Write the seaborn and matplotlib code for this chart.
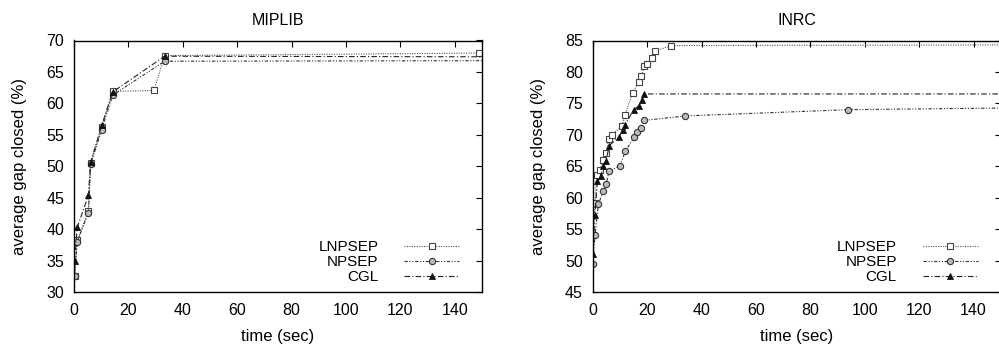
import matplotlib
matplotlib.use("Agg")
import matplotlib.pyplot as plt
import seaborn as sns
import pandas as pd

# ---------------- data ----------------
mip_lnpsep_t = [0.2, 1.2, 5.3, 6.1, 10.2, 14.2, 29.4, 33.3, 149]
mip_lnpsep_v = [32.5, 38.2, 42.9, 50.5, 56.3, 61.9, 62.05, 67.6, 68.0]
mip_npsep_t = [0.2, 1.2, 5.3, 6.1, 10.2, 14.2, 33.3, 160]
mip_npsep_v = [32.6, 38.0, 42.6, 50.3, 55.8, 61.3, 66.7, 66.8]
mip_cgl_t = [0.2, 1.2, 5.3, 6.1, 10.2, 14.2, 33.3, 160]
mip_cgl_v = [34.9, 40.3, 45.4, 50.6, 56.5, 61.8, 67.5, 67.4]

inrc_lnpsep_t = [0.1, 0.9, 1.5, 2.7, 3.9, 4.9, 5.9, 7.0, 10.8, 11.9, 14.7, 17.0,
                 17.9, 18.9, 19.9, 21.9, 23.0, 28.9, 160]
inrc_lnpsep_v = [54.1, 59.1, 63.6, 64.4, 66.0, 67.1, 69.3, 70.0, 71.4, 73.2, 76.7,
                 78.4, 79.3, 80.9, 81.2, 82.2, 83.3, 84.2, 84.3]
inrc_npsep_t = [0.0, 0.85, 2.1, 3.9, 4.9, 6.0, 10.1, 12.0, 15.2, 16.2, 17.9, 19.0,
                34.0, 94.0, 160]
inrc_npsep_v = [49.5, 54.1, 59.0, 61.0, 62.1, 64.2, 65.1, 67.4, 69.6, 70.4, 71.1,
                72.3, 73.0, 74.0, 74.3]
inrc_cgl_t = [0.0, 0.85, 1.7, 2.9, 3.9, 4.9, 6.1, 9.8, 11.0, 12.0, 15.0, 17.0,
              18.0, 19.0, 160]
inrc_cgl_v = [51.1, 57.3, 62.6, 63.4, 65.0, 65.9, 68.3, 69.7, 70.8, 71.6, 74.0,
              74.6, 75.5, 76.5, 76.5]

series_names = ["LNPSEP", "NPSEP", "CGL"]
panel_titles = ["MIPLIB", "INRC"]
x_ticks = [0, 20, 40, 60, 80, 100, 120, 140]
y_ticks_mip = [30, 35, 40, 45, 50, 55, 60, 65, 70]
y_ticks_inrc = [45, 50, 55, 60, 65, 70, 75, 80, 85]

# ---------------- style ----------------
sns.set_style("white")
plt.rcParams["font.family"] = ["Liberation Sans", "DejaVu Sans"]
plt.rcParams["font.size"] = 11
plt.rcParams["text.color"] = "black"
plt.rcParams["axes.labelcolor"] = "black"
plt.rcParams["xtick.color"] = "black"
plt.rcParams["ytick.color"] = "black"

styles = {
    "LNPSEP": dict(marker="s", markersize=4.3, markerfacecolor="white",
                   markeredgecolor="#444444", markeredgewidth=0.8,
                   linestyle=(0, (1, 1.2)), color="#555555", linewidth=0.8),
    "NPSEP": dict(marker="o", markersize=4.5, markerfacecolor="#bbbbbb",
                  markeredgecolor="#333333", markeredgewidth=0.8,
                  linestyle=(0, (3, 1.5, 1, 1.5, 1, 1.5)), color="#333333", linewidth=0.8),
    "CGL": dict(marker="^", markersize=4.5, markerfacecolor="#111111",
                markeredgecolor="#111111", markeredgewidth=0.6,
                linestyle=(0, (5, 2, 1, 2)), color="#222222", linewidth=0.8),
}

fig = plt.figure(figsize=(9.99, 3.48), dpi=100)
ax1 = fig.add_axes([74 / 999, 56 / 348, 408 / 999, 251.5 / 348])
ax2 = fig.add_axes([592.7 / 999, 56 / 348, 408 / 999, 251.5 / 348])

panels = [
    (ax1, [(mip_lnpsep_t, mip_lnpsep_v), (mip_npsep_t, mip_npsep_v), (mip_cgl_t, mip_cgl_v)],
     (30, 70), y_ticks_mip),
    (ax2, [(inrc_lnpsep_t, inrc_lnpsep_v), (inrc_npsep_t, inrc_npsep_v), (inrc_cgl_t, inrc_cgl_v)],
     (45, 85), y_ticks_inrc),
]

for (ax, data, ylim, yt), title in zip(panels, panel_titles):
    for name, (t, v) in zip(series_names, data):
        df = pd.DataFrame({"t": t, "v": v})
        sns.lineplot(data=df, x="t", y="v", ax=ax, estimator=None, sort=False,
                     label=name, **styles[name])
    ax.set_xlim(0, 150)
    ax.set_ylim(*ylim)
    ax.set_xticks(x_ticks)
    ax.set_yticks(yt)
    ax.set_xlabel("time (sec)", fontsize=12, labelpad=8, color="black")
    ax.set_ylabel("average gap closed (%)", fontsize=12, labelpad=14, color="black")
    ax.set_title(title, fontsize=11.5, pad=11, color="black")
    ax.tick_params(direction="in", length=4.5, width=0.8, top=True, right=True,
                   labelsize=11.5, color="black", labelcolor="black")
    ax.tick_params(axis="y", pad=7)
    ax.tick_params(axis="x", pad=8)
    for sp in ax.spines.values():
        sp.set_color("black")
        sp.set_linewidth(1.0)
    leg = ax.legend(loc="lower right", frameon=False, markerfirst=False,
                    handlelength=3.6, handletextpad=1.7, labelspacing=0.07,
                    borderaxespad=0.1, borderpad=0.4, numpoints=1, fontsize=11,
                    bbox_to_anchor=(0.963, 0.0))
    for txt in leg.get_texts():
        txt.set_color("black")
    for col in leg._legend_handle_box.get_children():
        col.align = "right"

fig.savefig("out.png", dpi=100)
